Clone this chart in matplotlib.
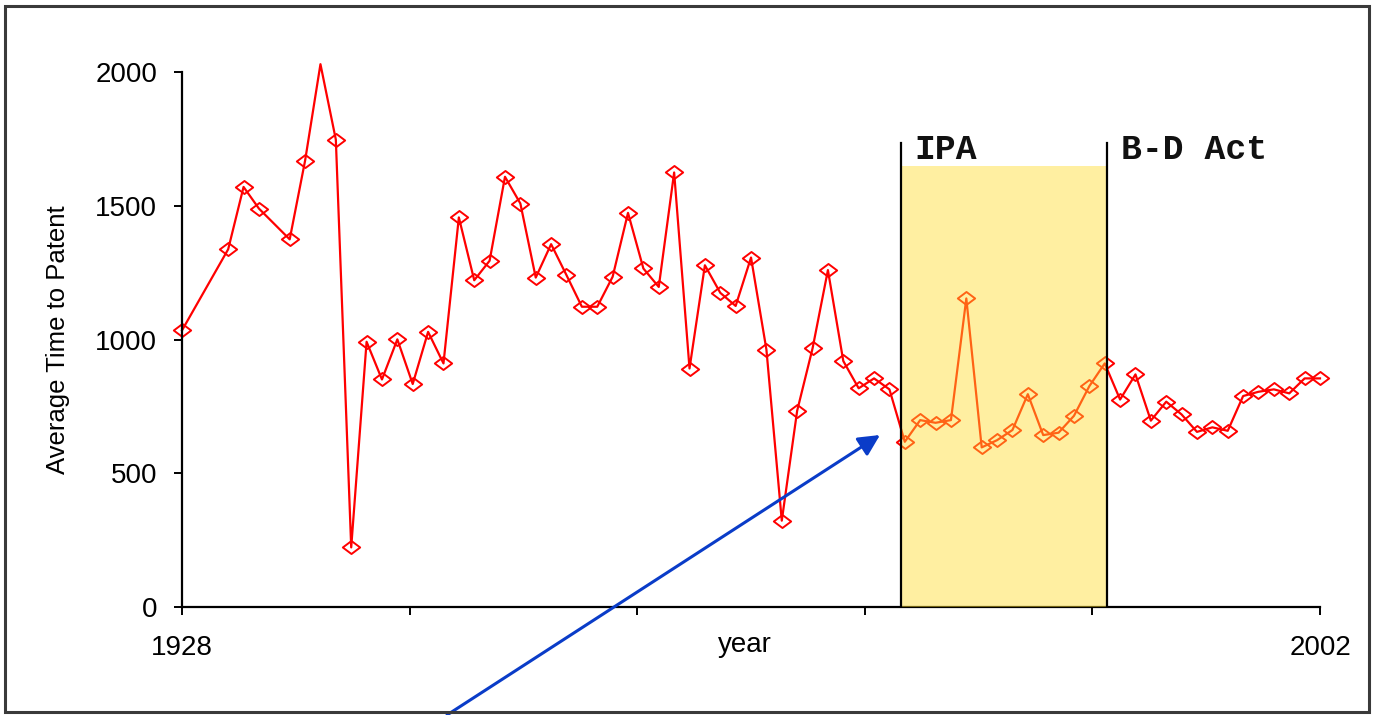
import numpy as np
import matplotlib
matplotlib.use("Agg")
import matplotlib.pyplot as plt
from matplotlib.path import Path
from matplotlib.patches import Rectangle

# data (years with no point are simply left out)
years = [1928, 1931, 1932, 1933, 1935, 1936, 1937, 1938, 1939, 1940,
         1941, 1942, 1943, 1944, 1945, 1946, 1947, 1948, 1949, 1950,
         1951, 1952, 1953, 1954, 1955, 1956, 1957, 1958, 1959, 1960,
         1961, 1962, 1963, 1964, 1965, 1966, 1967, 1968, 1969, 1970,
         1971, 1972, 1973, 1974, 1975, 1976, 1977, 1978, 1979, 1980,
         1981, 1982, 1983, 1984, 1985, 1986, 1987, 1988, 1989, 1990,
         1991, 1992, 1993, 1994, 1995, 1996, 1997, 1998, 1999, 2000,
         2001, 2002]
time_to_patent = [1035, 1338, 1571, 1490, 1375, 1669, 2030, 1748, 223, 992,
                  851, 1001, 834, 1029, 911, 1457, 1222, 1295, 1609, 1509,
                  1232, 1357, 1241, 1123, 1123, 1235, 1474, 1266, 1197, 1625,
                  892, 1278, 1175, 1126, 1307, 963, 323, 734, 967, 1260,
                  920, 818, 855, 814, 618, 699, 689, 699, 1154, 597,
                  624, 662, 796, 643, 652, 715, 826, 911, 776, 870,
                  697, 768, 720, 655, 672, 659, 789, 805, 814, 799,
                  855, 855]
no_marker_years = [1937]

ipa_year = 1974.75
bd_act_year = 1988.15
event_labels = ["IPA", "B-D Act"]
shade_top = 1650
event_line_top = 1735

y_ticks = [0, 500, 1000, 1500, 2000]
x_first, x_last = 1928, 2002
x_tick_step = (x_last - x_first) / 5

plt.rcParams['font.family'] = ['Liberation Sans', 'DejaVu Sans']

fig = plt.figure(figsize=(13.74, 7.15), dpi=100)
ax = fig.add_axes([0.1325, 0.151, 0.8282, 0.748])

# squat diamond marker like the original
diamond = Path([(-1, 0), (0, 0.75), (1, 0), (0, -0.75), (-1, 0)],
               [Path.MOVETO, Path.LINETO, Path.LINETO, Path.LINETO, Path.CLOSEPOLY])
marked = [i for i, y in enumerate(years) if y not in no_marker_years]

ax.plot(years, time_to_patent, color='#ff0000', lw=1.6, marker=diamond,
        markersize=12.5, markerfacecolor='none', markeredgecolor='#ff0000',
        markeredgewidth=1.4, markevery=marked, clip_on=False, zorder=2)

# shaded period, drawn over the line so it tints it orange
ax.add_patch(Rectangle((ipa_year, 0), bd_act_year - ipa_year, shade_top,
                       facecolor='#ffdd30', alpha=0.45, edgecolor='none', zorder=3))
for yr, lab in zip([ipa_year, bd_act_year], event_labels):
    ax.plot([yr, yr], [0, event_line_top], color='black', lw=1.6, zorder=4)
    ax.text(yr + 0.9, 1675, lab, family='Liberation Mono', fontweight='bold',
            fontsize=25, ha='left', va='baseline', color='#111111', zorder=5)

ax.set_xlim(x_first, x_last)
ax.set_ylim(0, 2000)
ax.spines['top'].set_visible(False)
ax.spines['right'].set_visible(False)
ax.spines['left'].set_linewidth(1.6)
ax.spines['bottom'].set_linewidth(1.6)

ax.set_yticks(y_ticks)
ax.set_yticklabels([str(v) for v in y_ticks])
xt = [x_first + k * x_tick_step for k in range(6)]
ax.set_xticks(xt)
ax.set_xticklabels([str(x_first), '', '', '', '', str(x_last)])
ax.tick_params(axis='both', direction='out', length=6, width=1.4,
               labelsize=20, colors='black')
ax.tick_params(axis='y', pad=12)
ax.tick_params(axis='x', pad=14)

ax.set_xlabel('year', fontsize=20)
ax.xaxis.set_label_coords(0.495, -0.071)
ax.xaxis.label.set_va('center')
ax.set_ylabel('Average Time to Patent', fontsize=18.5)
ax.yaxis.set_label_coords(-0.109, 0.5)
ax.yaxis.label.set_va('center')

# blue arrow pointing at the start of the shaded period
ax.annotate('', xy=(880, 715 - 435), xytext=(447, 0),
            xycoords='figure pixels', textcoords='figure pixels',
            arrowprops=dict(arrowstyle='-|>', color='#0a3cc8', lw=2.2,
                            mutation_scale=32, shrinkA=0, shrinkB=0),
            annotation_clip=False, zorder=6)

# frame round the whole picture
fig.patches.append(Rectangle((5 / 1374, 3 / 715), 1364 / 1374, 706 / 715,
                             transform=fig.transFigure, fill=False,
                             edgecolor='#3a3a3a', lw=2.2))

fig.savefig('out.png', dpi=100)
